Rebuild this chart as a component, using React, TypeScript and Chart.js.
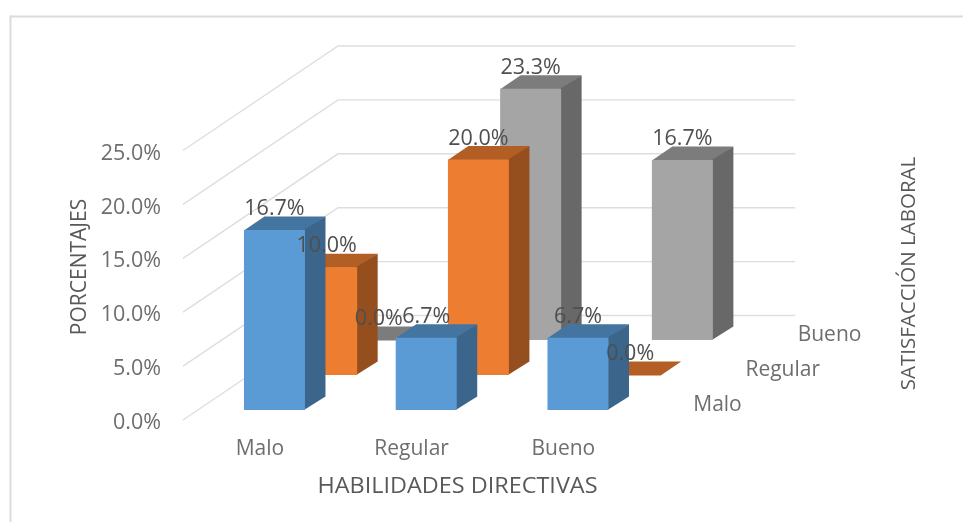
import React, { useEffect, useRef } from "react";
import { Chart, registerables } from "chart.js";

Chart.register(...registerables);

// Satisfacción laboral por nivel de habilidades directivas (percentages)
const categories = ["Malo", "Regular", "Bueno"];
const seriesNames = ["Malo", "Regular", "Bueno"];
const malo = [16.7, 6.7, 6.7];
const regular = [10.0, 20.0, 0.0];
const bueno = [0.0, 23.3, 16.7];
const yMax = 25;
const yStep = 5;

const FONT = '"Open Sans", sans-serif';
const VALUE_SIZE = 21.5;
const CATEGORY_SIZE = 21;
const TEXT_GREY = "#6e6e6e";
const LABEL_GREY = "#4f4f4f";
const TITLE_GREY = "#595959";
const GRID_GREY = "#dedede";

const faces = [
  { front: "#5b9bd5", side: "#3b658b", top: "#4474a0" },
  { front: "#ed7d31", side: "#954f1f", top: "#b25e25" },
  { front: "#a5a5a5", side: "#686868", top: "#7c7c7c" },
];

// Oblique projection of the series axis
const WALL_DX = 155;
const WALL_DY = -104.5;
const SERIES_DX = 52.2;
const SERIES_DY = -35;
const INSET_DX = 14.6;
const INSET_DY = -10;
const BAR_DX = 20.5;
const BAR_DY = -13.5;

const pct = (v: number) => `${v.toFixed(1)}%`;

function polygon(ctx: CanvasRenderingContext2D, pts: number[][], fill: string) {
  ctx.beginPath();
  pts.forEach(([x, y], i) => (i ? ctx.lineTo(x, y) : ctx.moveTo(x, y)));
  ctx.closePath();
  ctx.fillStyle = fill;
  ctx.fill();
}

function text(
  ctx: CanvasRenderingContext2D,
  s: string,
  x: number,
  y: number,
  size: number,
  color: string,
  align: CanvasTextAlign = "center",
  rotate = 0,
  stretch = 1
) {
  ctx.save();
  ctx.translate(x, y);
  ctx.rotate(rotate);
  ctx.scale(stretch, 1);
  ctx.font = `${size}px ${FONT}`;
  ctx.fillStyle = color;
  ctx.textAlign = align;
  ctx.textBaseline = "middle";
  ctx.fillText(s, 0, 0);
  ctx.restore();
}

const obliquePlugin = {
  id: "oblique",
  beforeDraw(chart: any) {
    // Outer frame: top and left edges only
    const { ctx, width, height } = chart;
    ctx.save();
    ctx.fillStyle = "#dcdcdc";
    ctx.fillRect(10, 15.5, width - 10, 2);
    ctx.fillRect(9.5, 15.5, 2, height - 15.5);
    ctx.restore();
  },
  beforeDatasetsDraw(chart: any) {
    // Side wall and back wall gridlines, one per value tick
    const { ctx, scales, chartArea } = chart;
    const yScale = scales.y;
    ctx.save();
    ctx.strokeStyle = GRID_GREY;
    ctx.lineWidth = 1.4;
    yScale.ticks.forEach((t: any) => {
      const y = yScale.getPixelForValue(t.value);
      ctx.beginPath();
      ctx.moveTo(chartArea.left - 1, y);
      ctx.lineTo(chartArea.left - 1 + WALL_DX, y + WALL_DY);
      ctx.lineTo(chartArea.right + WALL_DX + 1, y + WALL_DY);
      ctx.stroke();
    });
    ctx.restore();
  },
  beforeDatasetDraw(chart: any, args: any) {
    // Each bar is drawn as a prism shifted back along the series axis
    const { ctx } = chart;
    const i = args.index;
    const c = faces[i];
    const ox = INSET_DX + i * SERIES_DX;
    const oy = INSET_DY + i * SERIES_DY;
    args.meta.data.forEach((el: any) => {
      const { x, y, base, width } = el.getProps(["x", "y", "base", "width"], true);
      const l = x - width / 2 + ox;
      const r = x + width / 2 + ox;
      const t = y + oy;
      const b = base + oy;
      polygon(ctx, [[l, t + 0.5], [l + BAR_DX, t + BAR_DY], [r + BAR_DX, t + BAR_DY], [r, t + 0.5]], c.top);
      if (b - t > 0.5) {
        polygon(ctx, [[r - 1, t], [r + BAR_DX, t + BAR_DY], [r + BAR_DX, b + BAR_DY], [r - 1, b]], c.side);
        polygon(ctx, [[l, t], [r, t], [r, b], [l, b]], c.front);
      }
    });
    return false;
  },
  afterDatasetsDraw(chart: any) {
    const { ctx, chartArea } = chart;
    // Value labels above each bar
    chart.data.datasets.forEach((ds: any, i: number) => {
      chart.getDatasetMeta(i).data.forEach((el: any, j: number) => {
        const x = el.x + INSET_DX + i * SERIES_DX;
        const y = el.y + INSET_DY + i * SERIES_DY - 21;
        text(ctx, pct(ds.data[j]), x, y, VALUE_SIZE, LABEL_GREY);
      });
    });
    // Series axis labels running along the floor
    seriesNames.forEach((name, i) => {
      text(
        ctx,
        name,
        chartArea.right + 54 + i * SERIES_DX,
        405.5 + i * SERIES_DY,
        CATEGORY_SIZE,
        TEXT_GREY,
        "left"
      );
    });
    // Axis titles
    text(ctx, "PORCENTAJES", 80, 267, 21, TITLE_GREY, "center", -Math.PI / 2);
    text(ctx, "HABILIDADES DIRECTIVAS", 457.5, 487, 21, TITLE_GREY, "center", 0, 1.115);
    text(ctx, "SATISFACCIÓN LABORAL", 909, 273.5, 20.5, TITLE_GREY, "center", -Math.PI / 2);
  },
};

export default function App() {
  const ref = useRef<HTMLCanvasElement>(null);

  useEffect(() => {
    if (!ref.current) return;
    const dataRows = [malo, regular, bueno];
    const chart = new Chart(ref.current, {
      type: "bar",
      data: {
        labels: categories,
        datasets: seriesNames.map((name, i) => ({
          label: name,
          data: dataRows[i],
          backgroundColor: faces[i].front,
          grouped: false,
          barPercentage: 0.402,
          categoryPercentage: 1,
        })),
      },
      options: {
        responsive: false,
        animation: false,
        events: [],
        layout: { padding: { top: 150.5, right: 323.75, bottom: 0, left: 0 } },
        plugins: { legend: { display: false }, tooltip: { enabled: false } },
        scales: {
          x: {
            grid: { display: false },
            border: { display: false },
            ticks: {
              color: TEXT_GREY,
              font: { family: FONT, size: CATEGORY_SIZE },
              padding: 8,
              maxRotation: 0,
            },
            afterFit(scale: any) {
              scale.height = 102;
            },
          },
          y: {
            min: 0,
            max: yMax,
            grid: { display: false },
            border: { display: false },
            ticks: {
              stepSize: yStep,
              color: TEXT_GREY,
              font: { family: FONT, size: VALUE_SIZE },
              padding: 15,
              labelOffset: 3,
              callback: (v: any) => pct(Number(v)),
            },
            afterFit(scale: any) {
              scale.width = 184;
            },
          },
        },
      },
      plugins: [obliquePlugin],
    } as any);
    return () => chart.destroy();
  }, []);

  return (
    <canvas
      ref={ref}
      width={963}
      height={522}
      style={{ position: "absolute", left: 0, top: 0, display: "block" }}
    />
  );
}
